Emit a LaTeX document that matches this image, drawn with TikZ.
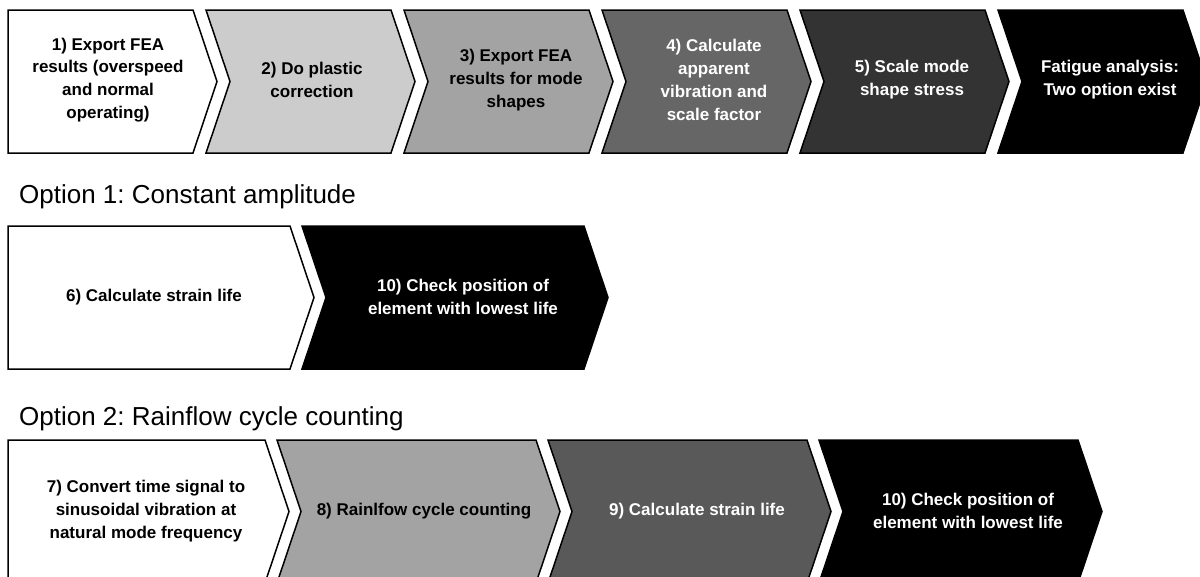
\documentclass[tikz,border=0pt]{standalone}
\usepackage{fontspec}
\setmainfont{Liberation Sans}
\frenchspacing

\definecolor{stepgrayA}{HTML}{CCCCCC}
\definecolor{stepgrayB}{HTML}{A3A3A3}
\definecolor{stepgrayC}{HTML}{666666}
\definecolor{stepgrayD}{HTML}{333333}
\definecolor{stepgrayE}{HTML}{595959}

\tikzset{
  steptext/.style={align=center, font=\fontsize{17}{22.8}\selectfont\bfseries},
  darktext/.style={steptext, text=white},
  optiontitle/.style={anchor=base west, inner sep=0pt, font=\fontsize{26}{30}\selectfont},
}

% arrow box: left x, right x, top y, fill, notch depth (0 = flat left side)
\newcommand{\procstep}[5]{%
  \filldraw[line width=1.5pt, fill=#4] (#1,#3) -- (#2,#3) -- ({#2+24},{#3+71.5})
    -- (#2,{#3+143}) -- (#1,{#3+143}) -- ({#1+#5},{#3+71.5}) -- cycle;}

\begin{document}
\begin{tikzpicture}[x=1pt,y=-1pt]
\useasboundingbox (0,0) rectangle (1200,576);
\clip (0,0) rectangle (1200,576);

% first row
\procstep{8}{193}{10}{white}{0}
\procstep{206}{391}{10}{stepgrayA}{24}
\procstep{404}{589}{10}{stepgrayB}{24}
\procstep{602}{787}{10}{stepgrayC}{24}
\procstep{800}{985}{10}{stepgrayD}{24}
\procstep{998}{1183}{10}{black}{24}

\node[steptext] (s1) at (108,80) {1) Export FEA\\results (overspeed\\and normal\\operating)};
\node[steptext] (s2) at (312,80) {2) Do plastic\\correction};
\node[steptext] (s3) at (516,80) {3) Export FEA\\results for mode\\shapes};
\node[darktext] (s4) at (714,80) {4) Calculate\\apparent\\vibration and\\scale factor};
\node[darktext] (s5) at (912,80) {5) Scale mode\\shape stress};
\node[darktext] (s6) at (1110,80) {Fatigue analysis:\\Two option exist};

% option 1
\node[optiontitle] (opt1) at (19,203) {Option 1: Constant amplitude};
\procstep{8}{290}{226}{white}{0}
\procstep{302}{584}{226}{black}{24}
\node[steptext] (c6) at (154,297) {6) Calculate strain life};
\node[darktext] (c10) at (463,297) {10) Check position of\\element with lowest life};

% option 2
\node[optiontitle] (opt2) at (19,425) {Option 2: Rainflow cycle counting};
\procstep{8}{265}{440}{white}{0}
\procstep{277}{536}{440}{stepgrayB}{24}
\procstep{548}{807}{440}{stepgrayE}{24}
\procstep{819}{1078}{440}{black}{24}
\node[steptext] (r7) at (146,511) {7) Convert time signal to\\sinusoidal vibration at\\natural mode frequency};
\node[steptext] (r8) at (424,511) {8) Rainlfow cycle counting};
\node[darktext] (r9) at (697,511) {9) Calculate strain life};
\node[darktext] (r10) at (968,511) {10) Check position of\\element with lowest life};
\end{tikzpicture}
\end{document}
